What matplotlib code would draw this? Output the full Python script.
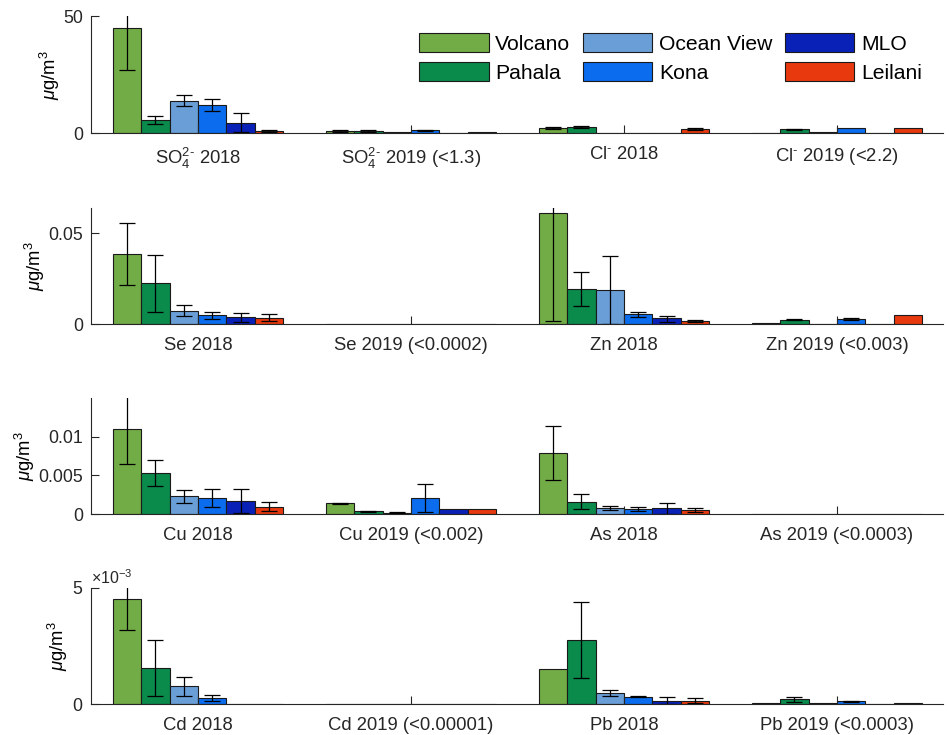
import numpy as np
import matplotlib
matplotlib.use('Agg')
import matplotlib.pyplot as plt
from matplotlib.ticker import FuncFormatter, ScalarFormatter

plt.rcParams.update({'font.family': 'Liberation Sans', 'font.size': 13.3,
                     'mathtext.fontset': 'custom', 'mathtext.rm': 'Liberation Sans',
                     'mathtext.it': 'Liberation Sans:italic', 'mathtext.bf': 'Liberation Sans:bold',
                     'axes.edgecolor': '#262626', 'xtick.color': '#262626', 'ytick.color': '#262626'})

# ---------------- datos ----------------
stations = ['Volcano', 'Pahala', 'Ocean View', 'Kona', 'MLO', 'Leilani']
colors = ['#72AC46', '#0A8A4B', '#6A9ED7', '#0B6CEE', '#0A21B8', '#E8390E']
nan = np.nan

# panel 1: SO4 / Cl
p1_labels = ['SO$_4^{2\\text{-}}$ 2018', 'SO$_4^{2\\text{-}}$ 2019 (<1.3)', 'Cl$^{\\text{-}}$ 2018', 'Cl$^{\\text{-}}$ 2019 (<2.2)']
p1_mean = [[44.9, 5.6, 13.8, 12.1, 4.3, 0.8],
           [0.7, 0.8, 0.3, 1.1, 0.1, 0.6],
           [2.3, 2.5, 0.0, 0.1, 0.0, 1.9],
           [0.15, 1.7, 0.25, 2.0, 0.0, 2.3]]
p1_lo = [[26.9, 4.0, 11.5, 9.5, 0.3, 0.5],
         [0.3, 0.5, nan, 0.8, nan, nan],
         [1.9, 2.1, nan, nan, nan, 1.5],
         [nan, 1.5, nan, nan, nan, nan]]
p1_hi = [[62.9, 7.2, 16.1, 14.7, 8.5, 1.1],
         [1.1, 1.1, nan, 1.4, nan, nan],
         [2.7, 2.9, nan, nan, nan, 2.3],
         [nan, 1.9, nan, nan, nan, nan]]

# panel 2: Se / Zn
p2_labels = ['Se 2018', 'Se 2019 (<0.0002)', 'Zn 2018', 'Zn 2019 (<0.003)']
p2_mean = [[0.0384, 0.0224, 0.0073, 0.0048, 0.0040, 0.0032],
           [0.0001, 0.0001, 0.0001, 0.0001, 0.0001, 0.0001],
           [0.0610, 0.0191, 0.0187, 0.0053, 0.0031, 0.0018],
           [0.0005, 0.0025, 0.0001, 0.0029, 0.0, 0.0049]]
p2_lo = [[0.0215, 0.0064, 0.0042, 0.0027, 0.0012, 0.0015],
         [nan] * 6,
         [0.0017, 0.0099, 0.0, 0.0037, 0.0014, 0.0011],
         [nan, 0.0022, nan, 0.0021, nan, nan]]
p2_hi = [[0.0553, 0.0382, 0.0105, 0.0069, 0.0063, 0.0053],
         [nan] * 6,
         [0.1203, 0.0285, 0.0373, 0.0069, 0.0047, 0.0025],
         [nan, 0.0028, nan, 0.0036, nan, nan]]

# panel 3: Cu / As
p3_labels = ['Cu 2018', 'Cu 2019 (<0.002)', 'As 2018', 'As 2019 (<0.0003)']
p3_mean = [[0.01095, 0.0053, 0.0023, 0.0021, 0.00175, 0.0010],
           [0.0014, 0.0004, 0.0002, 0.0021, 0.0007, 0.0007],
           [0.0079, 0.0016, 0.00077, 0.00068, 0.0008, 0.00055],
           [0.00002, 0.0001, 0.00003, 0.0001, 0.00003, 0.00005]]
p3_lo = [[0.0065, 0.0036, 0.0015, 0.0009, 0.0002, 0.0004],
         [0.00135, 0.00035, 0.00015, 0.0003, nan, nan],
         [0.0044, 0.0007, 0.0005, 0.0004, 0.0001, 0.0003],
         [nan] * 6]
p3_hi = [[0.0154, 0.0070, 0.0031, 0.0032, 0.0032, 0.0016],
         [0.00145, 0.00045, 0.00025, 0.0039, nan, nan],
         [0.0113, 0.0026, 0.0011, 0.0010, 0.0015, 0.0008],
         [nan] * 6]

# panel 4: Cd / Pb
p4_labels = ['Cd 2018', 'Cd 2019 (<0.00001)', 'Pb 2018', 'Pb 2019 (<0.0003)']
p4_mean = [[0.00452, 0.00156, 0.00079, 0.00028, 0.0, 0.0],
           [0.00001] * 6,
           [0.0015, 0.00276, 0.00048, 0.00033, 0.00016, 0.00013],
           [0.00006, 0.00021, 0.00006, 0.00013, 0.00002, 0.00005]]
p4_lo = [[0.00319, 0.00036, 0.00037, 0.00015, nan, nan],
         [nan] * 6,
         [nan, 0.00114, 0.00036, 0.00031, 0.0, 0.00004],
         [nan, 0.00009, nan, 0.00011, nan, nan]]
p4_hi = [[0.00585, 0.00276, 0.00119, 0.00041, nan, nan],
         [nan] * 6,
         [nan, 0.00438, 0.00061, 0.00035, 0.00033, 0.00025],
         [nan, 0.00033, nan, 0.00015, nan, nan]]

panels = [(p1_labels, p1_mean, p1_lo, p1_hi, 50, [0, 50]),
          (p2_labels, p2_mean, p2_lo, p2_hi, 0.064, [0, 0.05]),
          (p3_labels, p3_mean, p3_lo, p3_hi, 0.015, [0, 0.005, 0.01]),
          (p4_labels, p4_mean, p4_lo, p4_hi, 0.005, [0, 0.005])]

# ---------------- figura ----------------
fig = plt.figure(figsize=(9.49, 7.35), dpi=100)
bottoms = [0.819, 0.559, 0.3003, 0.0418]
w = 0.8 / 6
groups = np.arange(1, 5)

for k, (labels, mean, lo, hi, ytop, yticks) in enumerate(panels):
    ax = fig.add_axes([0.0964, bottoms[k], 0.8978, 0.1586])
    mean = np.array(mean); lo = np.array(lo); hi = np.array(hi)
    handles = []
    for i in range(6):
        x = groups + (i - 2.5) * w
        b = ax.bar(x, mean[:, i], width=w, color=colors[i], edgecolor='#1a1a1a',
                   linewidth=0.8, label=stations[i])
        handles.append(b)
        ax.errorbar(x, mean[:, i], yerr=[mean[:, i] - lo[:, i], hi[:, i] - mean[:, i]],
                    fmt='none', ecolor='k', elinewidth=0.9, capsize=5.5, capthick=0.9)
    ax.set_xlim(0.5, 4.5)
    ax.set_ylim(0, ytop)
    ax.set_xticks(groups)
    ax.set_xticklabels(labels)
    ax.set_yticks(yticks)
    ax.tick_params(direction='in', length=6, width=0.8)
    ax.tick_params(axis='x', pad=9)
    ax.tick_params(axis='y', pad=6, labelsize=12.8)
    for s in ['top', 'right']:
        ax.spines[s].set_visible(False)
    for s in ['left', 'bottom']:
        ax.spines[s].set_linewidth(0.8)
    ax.set_ylabel('$\\mu$g/m$^3$', labelpad=1)
    if k == 3:
        fmt = ScalarFormatter(useMathText=True)
        fmt.set_powerlimits((0, 0))
        ax.yaxis.set_major_formatter(fmt)
        ax.yaxis.get_offset_text().set_fontsize(11.5)
    else:
        ax.yaxis.set_major_formatter(FuncFormatter(lambda v, p: f'{v:g}'))
    if k == 0:
        ax.legend(handles=handles, loc='upper left', bbox_to_anchor=(419 / 949, 1 - 33 / 735),
                  bbox_transform=fig.transFigure, ncol=3, frameon=False, fontsize=15.2,
                  handlelength=3.3, handleheight=1.0, handletextpad=0.3,
                  columnspacing=0.6, labelspacing=0.4, borderpad=0, borderaxespad=0)

fig.savefig('out.png', dpi=100)
